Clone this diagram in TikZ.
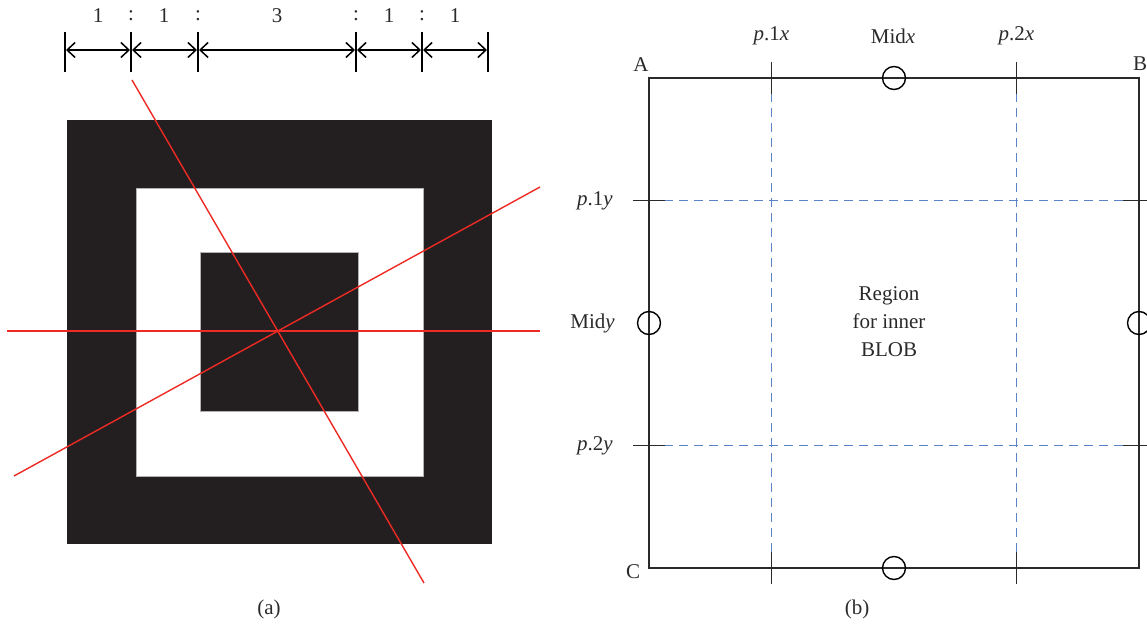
\documentclass[tikz,border=0pt]{standalone}
\usepackage{fontspec}
\setmainfont{Liberation Serif}
\usetikzlibrary{arrows.meta}
\definecolor{blk}{HTML}{231F20}
\definecolor{redl}{HTML}{EE2A24}
\definecolor{bluel}{HTML}{5B84C8}
\definecolor{edge}{HTML}{2A2A2A}
\begin{document}
\begin{tikzpicture}[x=1pt,y=-1pt,
  lbl/.style={font=\fontsize{21}{24}\selectfont, text=edge, inner sep=0pt},
  dimtick/.style={line width=2pt, draw=black},
  dimarrow/.style={line width=1.5pt, {Straight Barb[length=8pt,width=15pt]}-{Straight Barb[length=8pt,width=15pt]}},
  redline/.style={draw=redl, line width=1.4pt},
  boxline/.style={draw=edge, line width=1.7pt},
  gridline/.style={draw=bluel, line width=1.5pt, dash pattern=on 9pt off 6pt},
  tickmark/.style={draw=edge, line width=1.7pt},
  midcircle/.style={circle, draw=black, line width=1.4pt, minimum size=23pt, inner sep=0pt}]
\useasboundingbox (0,0) rectangle (1147,626);

% ---------- (a) ----------
\fill[blk] (67,120) rectangle (492,544);
\filldraw[fill=white, draw=gray!60, line width=1pt] (136,188) rectangle (423,476);
\filldraw[fill=blk, draw=gray!60, line width=1pt] (200,252) rectangle (358,411);

\coordinate (h1) at (7,331);
\coordinate (h2) at (540,331);
\coordinate (s1) at (132,80);
\coordinate (s2) at (424,583);
\coordinate (d1) at (14,476);
\coordinate (d2) at (540,187);
\draw[redline, line width=2.6pt] (h1) -- (h2);
\draw[redline] (s1) -- (s2);
\draw[redline] (d1) -- (d2);

% dimension line
\foreach \n/\x in {t0/65,t1/131,t2/198,t3/356,t4/422,t5/488}{
  \coordinate (\n top) at (\x,32);
  \coordinate (\n bot) at (\x,72);
  \coordinate (\n) at (\x,50);
  \draw[dimtick] (\n top) -- (\n bot);
}
\draw[dimarrow] ([xshift=1pt]t0) -- ([xshift=-1pt]t1);
\draw[dimarrow] ([xshift=1pt]t1) -- ([xshift=-1pt]t2);
\draw[dimarrow] ([xshift=1pt]t2) -- ([xshift=-1pt]t3);
\draw[dimarrow] ([xshift=1pt]t3) -- ([xshift=-1pt]t4);
\draw[dimarrow] ([xshift=1pt]t4) -- ([xshift=-1pt]t5);
\node[lbl] (r1) at (98,16) {1};
\node[lbl] (c1) at (131,16) {:};
\node[lbl] (r2) at (164,16) {1};
\node[lbl] (c2) at (198,16) {:};
\node[lbl] (r3) at (277,16) {3};
\node[lbl] (c3) at (356,16) {:};
\node[lbl] (r4) at (389,16) {1};
\node[lbl] (c4) at (422,16) {:};
\node[lbl] (r5) at (455,16) {1};
\node[lbl] (capa) at (269,609) {(a)};

% ---------- (b) ----------
\coordinate (A) at (649,78);
\coordinate (B) at (1139,78);
\coordinate (C) at (649,568);
\coordinate (D) at (1139,568);

% dashed grid
\coordinate (x1t) at (771.5,78);  \coordinate (x1b) at (771.5,568);
\coordinate (x2t) at (1016.5,78); \coordinate (x2b) at (1016.5,568);
\coordinate (y1l) at (649,200.5); \coordinate (y1r) at (1139,200.5);
\coordinate (y2l) at (649,445.5); \coordinate (y2r) at (1139,445.5);
\draw[gridline] (x1t) -- (x1b);
\draw[gridline] (x2t) -- (x2b);
\draw[gridline] (y1l) -- (y1r);
\draw[gridline] (y2l) -- (y2r);

\draw[boxline] (A) -- (B) -- (D) -- (C) -- cycle;

% ticks
\draw[tickmark] ([yshift=-16pt]x1t) -- ([yshift=16pt]x1t);
\draw[tickmark] ([yshift=-16pt]x2t) -- ([yshift=16pt]x2t);
\draw[tickmark] ([yshift=-16pt]x1b) -- ([yshift=16pt]x1b);
\draw[tickmark] ([yshift=-16pt]x2b) -- ([yshift=16pt]x2b);
\draw[tickmark] ([xshift=-16pt]y1l) -- ([xshift=16pt]y1l);
\draw[tickmark] ([xshift=-16pt]y2l) -- ([xshift=16pt]y2l);
\draw[tickmark] ([xshift=-16pt]y1r) -- ([xshift=16pt]y1r);
\draw[tickmark] ([xshift=-16pt]y2r) -- ([xshift=16pt]y2r);

% mid circles
\node[midcircle] (midT) at (894,78) {};
\node[midcircle] (midB) at (894,568) {};
\node[midcircle] (midL) at (649,323) {};
\node[midcircle] (midR) at (1139,323) {};

% labels
\node[lbl] (lA) at (641,65) {A};
\node[lbl] (lB) at (1140,64) {B};
\node[lbl] (lC) at (633,572) {C};
\node[lbl] (lp1x) at (771.5,36) {\textit{p}.1\textit{x}};
\node[lbl] (lmx) at (893,36) {Mid\textit{x}};
\node[lbl] (lp2x) at (1016.5,36) {\textit{p}.2\textit{x}};
\node[lbl, anchor=east] (lp1y) at (613,201) {\textit{p}.1\textit{y}};
\node[lbl, anchor=east] (lmy) at (615,323) {Mid\textit{y}};
\node[lbl, anchor=east] (lp2y) at (613,446) {\textit{p}.2\textit{y}};
\node[lbl, align=center, font=\fontsize{21}{28}\selectfont] (reg) at (889,322) {Region\\for inner\\BLOB};
\node[lbl] (capb) at (857,609) {(b)};
\end{tikzpicture}
\end{document}
